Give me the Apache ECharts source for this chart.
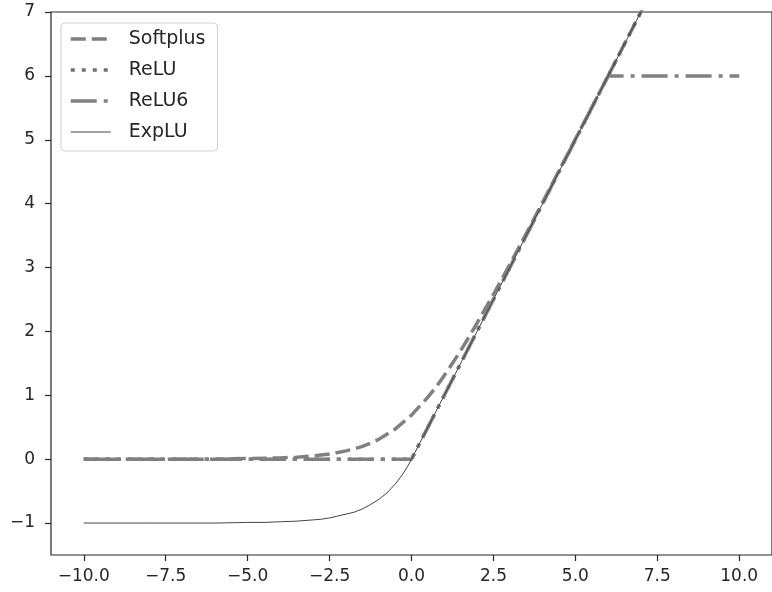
<!DOCTYPE html>
<html>
<head>
<meta charset="utf-8">
<script src="https://cdn.jsdelivr.net/npm/echarts@6/dist/echarts.min.js"></script>
<style>
  html, body { margin: 0; padding: 0; background: #fff; }
  #chart { width: 772px; height: 592px; }
</style>
</head>
<body>
<div id="chart"></div>
<script>
// 读图得到的数据
var seriesNames = ['Softplus', 'ReLU', 'ReLU6', 'ExpLU'];
var xTicks = [-10, -7.5, -5, -2.5, 0, 2.5, 5, 7.5, 10];
var yTicks = [-1, 0, 1, 2, 3, 4, 5, 6, 7];

var softplusX = [-10, -9, -8, -7, -6, -5, -4, -3.5, -3, -2.5, -2, -1.75, -1.5, -1.25, -1, -0.75, -0.5, -0.25, 0, 0.25, 0.5, 0.75, 1, 1.25, 1.5, 1.75, 2, 2.5, 3, 3.5, 4, 5, 6, 7, 8];
var softplusY = [0, 0, 0, 0, 0, 0.01, 0.02, 0.03, 0.05, 0.08, 0.13, 0.16, 0.2, 0.25, 0.31, 0.39, 0.47, 0.58, 0.69, 0.83, 0.97, 1.13, 1.31, 1.5, 1.7, 1.91, 2.13, 2.58, 3.05, 3.53, 4.02, 5.01, 6, 7, 8];

var reluX = [-10, 0, 10];
var reluY = [0, 0, 10];

var relu6X = [-10, 0, 6, 10];
var relu6Y = [0, 0, 6, 6];

var expluX = [-10, -8, -6, -5, -4.5, -4, -3.5, -3, -2.75, -2.5, -2.25, -2, -1.75, -1.5, -1.25, -1, -0.875, -0.75, -0.625, -0.5, -0.375, -0.25, -0.125, 0, 10];
var expluY = [-1, -1, -1, -0.99, -0.99, -0.98, -0.97, -0.95, -0.94, -0.92, -0.89, -0.86, -0.83, -0.78, -0.71, -0.63, -0.58, -0.53, -0.46, -0.39, -0.31, -0.22, -0.12, 0, 10];

function pairs(xs, ys) {
  return xs.map(function (x, i) { return [x, ys[i]]; });
}

function minus(s) {
  return String(s).replace('-', '\u2212');
}

var chart = echarts.init(document.getElementById('chart'));

var axisFont = { fontFamily: 'DejaVu Sans', fontSize: 17, color: '#262626' };
// 图例里只要线, 不要圆点
var noDot = { color: 'rgba(0,0,0,0)', borderWidth: 0, opacity: 0 };

var option = {
  animation: false,
  grid: {
    left: 51, top: 12, right: -6, bottom: 37,
    show: true, borderColor: '#262626', borderWidth: 1.2
  },
  legend: {
    orient: 'vertical',
    left: 61, top: 23,
    padding: [6, 12, 9, 8],
    itemWidth: 40, itemHeight: 20, itemGap: 11,
    backgroundColor: 'rgba(255,255,255,0.8)',
    borderColor: '#d0d0d0', borderWidth: 1, borderRadius: 4,
    textStyle: { fontFamily: 'DejaVu Sans', fontSize: 19, color: '#262626', lineHeight: 20, padding: [0, 0, 0, 13] },
    data: [
      { name: 'Softplus', itemStyle: noDot, lineStyle: { width: 3.5, type: [15, 6], color: '#808080' } },
      { name: 'ReLU', itemStyle: noDot, lineStyle: { width: 3.5, type: [4, 7], color: '#707070' } },
      { name: 'ReLU6', itemStyle: noDot, lineStyle: { width: 3.5, type: [26, 7, 4, 7], color: '#808080' } },
      { name: 'ExpLU', itemStyle: noDot, lineStyle: { width: 1, type: 'solid', color: '#444' } }
    ]
  },
  xAxis: {
    type: 'value', min: -11, max: 11,
    axisLine: { show: false, onZero: false },
    splitLine: { show: false },
    axisTick: { show: true, length: 6, customValues: xTicks, lineStyle: { color: '#262626', width: 1.2 } },
    axisLabel: Object.assign({
      margin: 13, customValues: xTicks,
      formatter: function (v) { return minus(v.toFixed(1)); }
    }, axisFont)
  },
  yAxis: {
    type: 'value', min: -1.5, max: 7,
    axisLine: { show: false, onZero: false },
    splitLine: { show: false },
    axisTick: { show: true, length: 6, customValues: yTicks, lineStyle: { color: '#262626', width: 1.2 } },
    axisLabel: Object.assign({
      margin: 16, customValues: yTicks,
      formatter: function (v) { return minus(v); }
    }, axisFont)
  },
  series: [
    {
      name: 'Softplus', type: 'line', symbol: 'none',
      data: pairs(softplusX, softplusY),
      lineStyle: { width: 3.5, type: [15, 6], color: '#808080' },
      itemStyle: { color: '#808080' }
    },
    {
      name: 'ReLU', type: 'line', symbol: 'none',
      data: pairs(reluX, reluY),
      lineStyle: { width: 3.5, type: [4, 7], color: '#707070' },
      itemStyle: { color: '#707070' }
    },
    {
      name: 'ReLU6', type: 'line', symbol: 'none',
      data: pairs(relu6X, relu6Y),
      lineStyle: { width: 3.5, type: [26, 7, 4, 7], color: '#808080' },
      itemStyle: { color: '#808080' }
    },
    {
      name: 'ExpLU', type: 'line', symbol: 'none',
      data: pairs(expluX, expluY),
      lineStyle: { width: 1, color: '#444' },
      itemStyle: { color: '#444' }
    }
  ]
};

chart.setOption(option);
</script>
</body>
</html>
